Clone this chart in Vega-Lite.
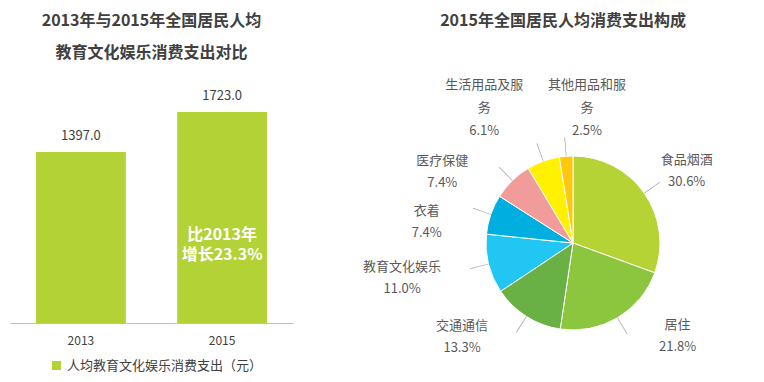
{
  "$schema": "https://vega.github.io/schema/vega-lite/v6.json",
  "padding": {"left": 10, "top": 12, "right": 0, "bottom": 0},
  "background": "white",
  "spacing": 70,
  "resolve": {"scale": {"color": "independent"}, "legend": {"color": "independent"}},
  "config": {
    "view": {"stroke": null},
    "font": "Noto Sans CJK SC",
    "text": {"lineBreak": "\n"}
  },
  "hconcat": [
    {
      "width": 283,
      "height": 218,
      "title": {
        "text": ["2013年与2015年全国居民人均", "教育文化娱乐消费支出对比"],
        "fontSize": 16,
        "fontWeight": "bold",
        "color": "#404040",
        "lineHeight": 32,
        "offset": 29,
        "frame": "group",
        "anchor": "middle"
      },
      "data": {
        "values": [
          {"year": "2013", "value": 1397.0, "series": "人均教育文化娱乐消费支出（元）"},
          {"year": "2015", "value": 1723.0, "series": "人均教育文化娱乐消费支出（元）", "note": "比2013年\n增长23.3%"}
        ]
      },
      "encoding": {
        "x": {
          "field": "year",
          "type": "nominal",
          "scale": {"paddingInner": 0.364, "paddingOuter": 0.184},
          "axis": {
            "title": null,
            "labelAngle": 0,
            "ticks": false,
            "labelPadding": 12,
            "labelFontSize": 12,
            "labelColor": "#404040",
            "domainColor": "#bfbfbf",
            "grid": false
          }
        },
        "y": {
          "field": "value",
          "type": "quantitative",
          "scale": {"domain": [0, 1780], "nice": false},
          "axis": null
        }
      },
      "layer": [
        {
          "mark": {"type": "bar"},
          "encoding": {
            "color": {
              "field": "series",
              "type": "nominal",
              "scale": {"range": ["#b3d236"]},
              "legend": {
                "orient": "none",
                "legendX": 40,
                "legendY": 254,
                "title": null,
                "symbolType": "square",
                "symbolSize": 81,
                "symbolStrokeWidth": 0,
                "labelFontSize": 13,
                "labelColor": "#404040",
                "labelLimit": 400,
                "labelOffset": 4
              }
            }
          }
        },
        {
          "mark": {"type": "text", "dy": -16, "fontSize": 13, "color": "#404040"},
          "encoding": {"text": {"field": "value", "type": "quantitative", "format": ".1f"}}
        },
        {
          "transform": [{"filter": "isValid(datum.note)"}],
          "mark": {"type": "text", "dy": 123, "fontSize": 16, "fontWeight": "bold", "color": "white", "lineHeight": 20},
          "encoding": {"text": {"field": "note", "type": "nominal"}}
        }
      ]
    },
    {
      "width": 380,
      "height": 276,
      "title": {
        "text": "2015年全国居民人均消费支出构成",
        "fontSize": 16,
        "fontWeight": "bold",
        "color": "#404040",
        "offset": 50,
        "frame": "group",
        "anchor": "middle",
        "dx": -10
      },
      "data": {
        "values": [
          {"idx": 1, "name": "食品烟酒", "share": 30.6},
          {"idx": 2, "name": "居住", "share": 21.8},
          {"idx": 3, "name": "交通通信", "share": 13.3},
          {"idx": 4, "name": "教育文化娱乐", "share": 11.0},
          {"idx": 5, "name": "衣着", "share": 7.4},
          {"idx": 6, "name": "医疗保健", "share": 7.4},
          {"idx": 7, "name": "生活用品及服\n务", "share": 6.1},
          {"idx": 8, "name": "其他用品和服\n务", "share": 2.5}
        ]
      },
      "transform": [
        {"stack": "share", "groupby": [], "sort": [{"field": "idx", "order": "ascending"}], "as": ["s0", "s1"]},
        {"calculate": "(datum.s0 + datum.s1) / 2", "as": "mid"},
        {"calculate": "datum.mid - 0.06", "as": "tick0"},
        {"calculate": "datum.mid + 0.06", "as": "tick1"},
        {"calculate": "datum.name + '\\n' + format(datum.share, '.1f') + '%'", "as": "label"}
      ],
      "layer": [
        {
          "mark": {"type": "arc", "outerRadius": 87, "stroke": "white", "strokeWidth": 1},
          "encoding": {
            "theta": {"field": "s0", "type": "quantitative", "scale": {"domain": [0, 100.1]}},
            "theta2": {"field": "s1"},
            "color": {
              "field": "name",
              "type": "nominal",
              "scale": {
                "domain": ["食品烟酒", "居住", "交通通信", "教育文化娱乐", "衣着", "医疗保健", "生活用品及服\n务", "其他用品和服\n务"],
                "range": ["#b5d334", "#8cc63f", "#6ab145", "#21c7f2", "#00aee0", "#f29b9b", "#fff100", "#ffc80a"]
              },
              "legend": null
            }
          }
        },
        {
          "mark": {"type": "arc", "innerRadius": 87, "outerRadius": 106, "color": "#a6a6a6"},
          "encoding": {
            "theta": {"field": "tick0", "type": "quantitative"},
            "theta2": {"field": "tick1"}
          }
        },
        {
          "transform": [{"filter": "datum.idx == 1"}],
          "mark": {"type": "text", "radius": 140, "dx": -1, "dy": -3, "fontSize": 13, "color": "#595959", "lineHeight": 22},
          "encoding": {"theta": {"field": "mid", "type": "quantitative"}, "text": {"field": "label", "type": "nominal"}}
        },
        {
          "transform": [{"filter": "datum.idx == 2"}],
          "mark": {"type": "text", "radius": 140, "dx": 33, "dy": -38, "fontSize": 13, "color": "#595959", "lineHeight": 22},
          "encoding": {"theta": {"field": "mid", "type": "quantitative"}, "text": {"field": "label", "type": "nominal"}}
        },
        {
          "transform": [{"filter": "datum.idx == 3"}],
          "mark": {"type": "text", "radius": 140, "dx": -36, "dy": -35, "fontSize": 13, "color": "#595959", "lineHeight": 22},
          "encoding": {"theta": {"field": "mid", "type": "quantitative"}, "text": {"field": "label", "type": "nominal"}}
        },
        {
          "transform": [{"filter": "datum.idx == 4"}],
          "mark": {"type": "text", "radius": 140, "dx": -35, "dy": -10, "fontSize": 13, "color": "#595959", "lineHeight": 22},
          "encoding": {"theta": {"field": "mid", "type": "quantitative"}, "text": {"field": "label", "type": "nominal"}}
        },
        {
          "transform": [{"filter": "datum.idx == 5"}],
          "mark": {"type": "text", "radius": 140, "dx": -14, "dy": 14, "fontSize": 13, "color": "#595959", "lineHeight": 22},
          "encoding": {"theta": {"field": "mid", "type": "quantitative"}, "text": {"field": "label", "type": "nominal"}}
        },
        {
          "transform": [{"filter": "datum.idx == 6"}],
          "mark": {"type": "text", "radius": 140, "dx": -33, "dy": 18, "fontSize": 13, "color": "#595959", "lineHeight": 22},
          "encoding": {"theta": {"field": "mid", "type": "quantitative"}, "text": {"field": "label", "type": "nominal"}}
        },
        {
          "transform": [{"filter": "datum.idx == 7"}],
          "mark": {"type": "text", "radius": 140, "dx": -41, "dy": -26, "fontSize": 13, "color": "#595959", "lineHeight": 23},
          "encoding": {"theta": {"field": "mid", "type": "quantitative"}, "text": {"field": "label", "type": "nominal"}}
        },
        {
          "transform": [{"filter": "datum.idx == 8"}],
          "mark": {"type": "text", "radius": 140, "dx": 25, "dy": -18, "fontSize": 13, "color": "#595959", "lineHeight": 23},
          "encoding": {"theta": {"field": "mid", "type": "quantitative"}, "text": {"field": "label", "type": "nominal"}}
        }
      ]
    }
  ]
}
